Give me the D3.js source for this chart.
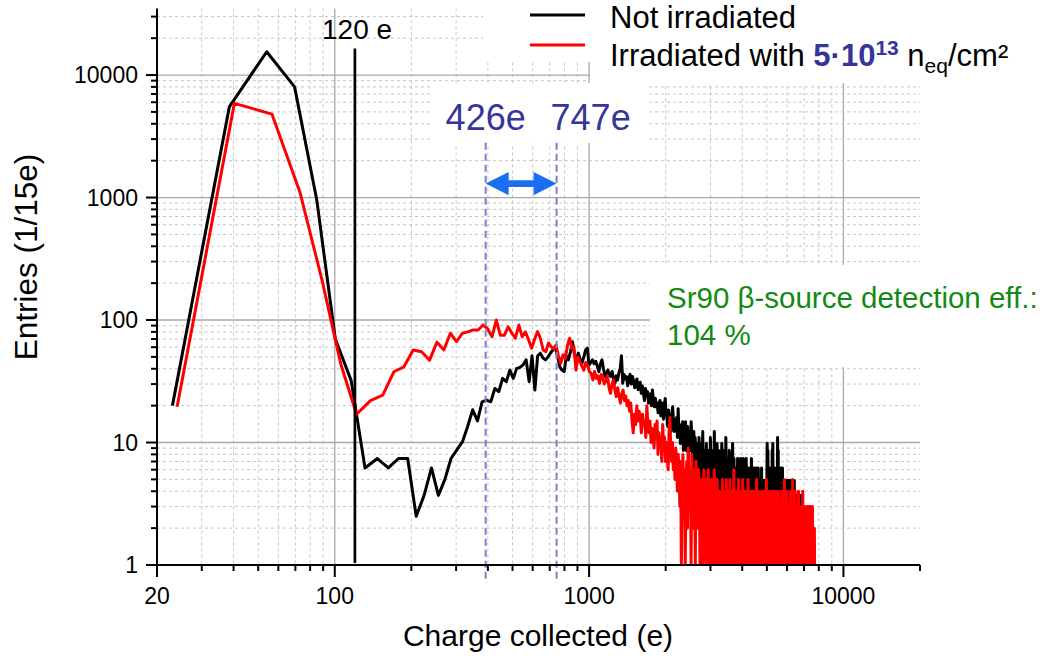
<!DOCTYPE html>
<html><head><meta charset="utf-8">
<script src="https://cdn.jsdelivr.net/npm/d3@7"></script>
<style>
html,body{margin:0;padding:0;background:#fff;}
svg{display:block;font-family:"Liberation Sans",Arial,Helvetica,sans-serif;}
</style></head><body>
<svg id="chart" width="1048" height="656"></svg>
<script>
// ---------- data ----------
const xTickLabels = [20, 100, 1000, 10000];
const yTickLabels = [1, 10, 100, 1000, 10000];
const legendNames = ["Not irradiated", "Irradiated with"];
// histogram binning (bin centres = start + i*width, in e)
const blackBinStart = 23, blackBinWidth = 15.5;
const redBinStart = 24, redBinWidth = 16.3;
const notIrradiated = [
20, 5500, 15500, 8000, 950, 70, 32, 6.2, 7.4, 6.2, 7.4, 7.4, 2.5, 3.7, 6.2, 3.7,
5, 7.4, 8.7, 10.1, 13.5, 18.5, 15, 21.5, 22.2, 21.5, 27.6, 26, 33.4, 31.4, 39,
33.4, 40.3, 41, 43, 47.3, 31.4, 51, 26.8, 51, 53.6, 49, 47.3, 50, 53.6, 57, 60.6, 50, 41.5, 39, 37.9,
51, 47.3, 55, 66.5, 52, 47.3, 53.6, 48, 44.4, 50, 56.9, 58.9, 42.9, 45, 47.3, 44, 46, 42, 37.9, 44,
47.3, 40, 34.6, 37, 39, 36, 34.6, 38, 33, 30.4, 35, 32.4, 37, 40, 51, 30.4, 36, 33, 34.6, 29,
33.4, 36, 30, 34.6, 32, 28, 31.4, 33, 27, 28.6, 31, 25.2, 29, 25.2, 22, 27.6, 24, 26, 21, 23.7,
25, 20, 26.8, 22, 19.6, 23, 19.6, 21, 17.5, 20.5, 22, 16.5, 18.4, 21, 15.5, 19, 22.9, 17, 16.2, 13.5,
18.4, 14.8, 16.2, 12.3, 17, 19.6, 14.8, 12.3, 15.2, 13.5, 16, 11, 18.9, 12.3, 14, 9.8, 13.5, 11, 14.8, 8.6,
12.3, 9.8, 14.8, 8.6, 11, 13.5, 7.4, 12.3, 9.8, 8.6, 14.8, 11, 7.4, 9.8, 12.3, 6.2, 11, 8.6, 9.8, 7.4,
8.6, 4.9, 11, 6.2, 7.4, 3.7, 9.8, 6.2, 12.3, 4.9, 7.4, 8.6, 3.7, 6.2, 9.8, 4.9, 7.4, 2.5, 8.6, 6.2,
4.9, 11, 3.7, 7.4, 6.2, 1.2, 8.6, 4.9, 12.3, 2.5, 7.4, 1.2, 6.2, 9.8, 3.7, 4.9, 8.6, 6.2, 2.5, 7.4,
4.9, 6.2, 9.8, 3.7, 7.4, 4.9, 2.5, 8.6, 6.2, 3.7, 11, 4.9, 6.2, 2.5, 7.4, 4.9, 3.7, 8.6, 6.2, 2.5, 4.9, 7.4, 3.7, 6.2, 9.8,
4.9, 2.5, 7.4, 3.7, 6.2, 1.2, 4.9, 3.7, 6.2, 2.5, 7.4, 4.9, 3.7, 2.5, 6.2, 4.9, 2.5, 7.4, 3.7, 4.9,
6.2, 1.2, 3.7, 7.4, 4.9, 2.5, 6.2, 3.7, 4.9, 2.5, 7.4, 3.7, 6.2, 2.5, 4.9, 3.7, 6.2, 1.2, 4.9, 3.7,
6.2, 2.5, 4.9, 7.4, 3.7, 2.5, 6.2, 4.9, 1.2, 3.7, 6.2, 4.9, 2.5, 3.7, 4.9, 2.5, 6.2, 3.7, 2.5, 4.9, 3.7, 6.2, 2.5, 4.9, 3.7,
3.7, 2.5, 4.9, 2.5, 3.7, 6.2, 2.5, 4.9, 3.7, 1.2, 4.9, 2.5, 3.7, 4.9, 2.5, 3.7, 2.5, 4.9, 3.7, 2.5,
4.9, 9.8, 3.7, 8.6, 2.5, 4.9, 1.2, 3.7, 6.2, 2.5, 4.9, 3.7, 2.5, 4.9, 2.5, 3.7, 8.6, 4.9, 9.8, 2.5,
3.7, 4.9, 1.2, 6.2, 2.5, 3.7, 4.9, 2.5, 3.7, 3.7, 6.2, 2.5, 4.9, 11, 3.7, 8.6, 2.5, 4.9, 1.2, 3.7,
6.2, 2.5, 4.9, 3.7, 2.5, 4.9, 6.2, 2.5, 3.7, 6.2, 1.2, 4.9, 2.5, 3.7, 2.5, 4.9, 2.5, 3.7, 4.9, 1.2,
3.7, 2.5, 4.9, 2.5, 3.7, 4.9, 2.5, 1.2, 3.7, 4.9, 2.5, 3.7, 2.5, 4.9, 2.5, 1.2, 3.7, 2.5, 4.9, 2.5,
2.5, 3.7, 1.2, 4.9, 2.5, 1.2, 3.7, 2.5, 1.2, 3.7, 2.5, 4.9, 1.2, 2.5, 3.7, 1.2, 2.5, 1.2, 3.7, 2.5,
1.2, 2.5, 3.7, 1.2, 2.5, 1.2, 2.5, 3.7, 1.2, 2.5, 1.2, 2.5, 1.2, 2.5, 3.7, 1.2, 2.5, 1.2, 2.5, 1.2,
2.5, 1.2, 3.7, 1.2, 2.5, 1.2, 2.5, 1.2
];
const irradiated = [
19.6, 5870, 4800, 1110, 210, 44, 17,
22, 24.4, 37.8, 41.5, 57, 55, 47, 66, 57,
78, 66.5, 78, 80, 83, 83, 91, 85, 73, 100, 75, 75, 88, 78, 71, 91, 73, 80, 68.7, 58.9,
70, 80.4, 71, 56.9, 55.1, 65, 60.6, 58, 62.5, 51, 44.4, 52, 48.6, 62.5, 71, 58, 60.6, 39, 50, 45.8,
42, 39, 45, 42.9, 38, 36.7, 32.4, 38, 33.4, 35, 30.4, 36, 33.4, 30, 32.4, 35, 28, 25.2, 30, 32.4,
27, 23.7, 28, 24, 21, 25, 26.8, 22, 24,
20, 22, 18, 21, 15, 12, 17, 14, 20, 15, 18, 16, 12, 17, 14, 15, 11, 20, 14, 12,
15, 10, 13, 11, 9, 14, 12, 15, 8, 12, 10, 11, 7, 14, 9, 11, 7, 10, 8, 6,
12, 16, 9, 7, 10, 6, 8, 5, 9, 7, 4, 8, 6, 3, 7, 1,
5, 8, 3, 6, 1, 4, 7, 2, 9, 5, 3, 6, 1, 8, 4, 2, 6, 5, 1, 7, 3, 5, 2, 6, 4, 1,
4, 2, 5, 1, 3, 6, 2, 4, 1, 5, 3, 2, 6, 1, 4, 3, 1, 5, 2, 3, 4, 1, 6, 2, 3, 1, 4, 5, 2, 1, 3, 4, 2,
3, 1, 4, 2, 5, 1, 3, 2, 4, 1, 2, 5, 3, 1, 4, 2, 3, 1, 5, 2, 1, 3, 4, 1, 2, 3, 6, 1, 4, 2, 3, 1, 2, 4, 1, 3, 5, 2, 1, 3,
2, 4, 1, 3, 2, 5, 1, 3, 1, 4, 2, 1, 3, 2, 4, 1, 2, 5, 1, 3, 2, 1, 4, 3, 1, 2, 3, 1, 4, 2, 1, 3, 2, 4, 1, 3, 1, 2, 5, 1, 3, 2, 1, 4, 2, 1, 3, 2,
1, 3, 2, 4, 1, 2, 1, 3, 2, 1, 4, 2, 3, 1, 2, 1, 5, 2, 1, 3, 1, 2, 4, 1, 3, 2, 1, 2, 4, 1, 3, 1, 2, 1, 3, 2, 4, 1, 2, 3, 1, 2, 1, 4, 2, 1, 3, 1, 2, 3, 1, 2, 4, 1, 2, 1, 3,
2, 1, 3, 1, 2, 4, 1, 2, 1, 3, 2, 1, 2, 5, 1, 2, 1, 3, 1, 2, 4, 1, 3, 2, 1, 2, 1, 3, 1, 2, 1, 4, 2, 1, 3, 1, 2, 1, 2, 3, 1, 5, 2, 1, 2, 1, 3, 1, 2, 1, 4, 2, 1, 3, 1, 2, 1, 2, 3, 1, 2, 1, 4, 1, 2, 1, 3, 1, 2,
1, 2, 1, 3, 1, 2, 1, 1, 2, 4, 1, 2, 1, 3, 1, 2, 1, 1, 2, 1, 3, 1, 2, 1, 1, 2, 3, 1, 1, 2, 1, 3, 1, 2, 1, 1, 3, 1, 2, 1, 1, 3, 1, 2, 1, 1, 2, 1, 3, 1, 1, 2, 1, 2, 1, 1, 2, 1, 1, 1
];
const thresholdE = 120;          // vertical cut line
const thresholdTop = 16500;      // top of the cut line (entries)
const markerLines = [392, 745];  // dashed marker positions (e)
const markerLabels = ["426e", "747e"];
const arrowLevel = 1300;         // entries level of the double arrow
const markerTop = 2800;

// ---------- scales ----------
const svg = d3.select("#chart");
const x = d3.scaleLog().domain([20, 20000]).range([157, 920]);
const y = d3.scaleLog().domain([1, 35000]).range([565, 8.4]);
const isMajor = v => Math.abs(Math.log10(v) - Math.round(Math.log10(v))) < 1e-9;
const X0 = x.range()[0], X1 = x.range()[1], Y0 = y.range()[0], Y1 = y.range()[1];

// ---------- grid ----------
const gGrid = svg.append("g");
x.ticks().filter(v => v > 20 && v < 20000).forEach(v => {
  gGrid.append("line").attr("x1", x(v)).attr("x2", x(v)).attr("y1", Y1).attr("y2", Y0)
    .attr("stroke", isMajor(v) ? "#a8a8a8" : "#c6c6c6")
    .attr("stroke-width", isMajor(v) ? 1.3 : 1)
    .attr("stroke-dasharray", isMajor(v) ? null : "3,3");
});
y.ticks().filter(v => v > 1).forEach(v => {
  gGrid.append("line").attr("x1", X0).attr("x2", X1).attr("y1", y(v)).attr("y2", y(v))
    .attr("stroke", isMajor(v) ? "#a8a8a8" : "#c6c6c6")
    .attr("stroke-width", isMajor(v) ? 1.3 : 1)
    .attr("stroke-dasharray", isMajor(v) ? null : "3,3");
});

// white backgrounds of annotation boxes
const boxes = svg.append("g").attr("fill", "#fff");
boxes.append("rect").attr("x", 483).attr("y", 0).attr("width", 565).attr("height", 62);
boxes.append("rect").attr("x", 590).attr("y", 0).attr("width", 458).attr("height", 83);
boxes.append("rect").attr("x", 430).attr("y", 83).attr("width", 217).attr("height", 60);
boxes.append("rect").attr("x", 650).attr("y", 265).attr("width", 398).attr("height", 102);

// ---------- data lines ----------
svg.append("defs").append("clipPath").attr("id", "clip")
  .append("rect").attr("x", X0).attr("y", 0).attr("width", X1 - X0).attr("height", Y0 + 1);
const gData = svg.append("g").attr("clip-path", "url(#clip)");
const lineB = d3.line().x((d, i) => x(blackBinStart + i * blackBinWidth)).y(d => y(d));
const lineR = d3.line().x((d, i) => x(redBinStart + i * redBinWidth)).y(d => y(d));
gData.append("path").datum(notIrradiated).attr("d", lineB)
  .attr("fill", "none").attr("stroke", "#000").attr("stroke-width", 3).attr("stroke-linejoin", "round");
gData.append("path").datum(irradiated).attr("d", lineR)
  .attr("fill", "none").attr("stroke", "#ff0000").attr("stroke-width", 3).attr("stroke-linejoin", "round");

// threshold line
svg.append("line").attr("x1", x(thresholdE)).attr("x2", x(thresholdE))
  .attr("y1", y(thresholdTop)).attr("y2", y(1) - 2)
  .attr("stroke", "#000").attr("stroke-width", 2.7);
svg.append("text").attr("x", 322).attr("y", 39).attr("font-size", 28).attr("fill", "#000").text(thresholdE + " e");

// marker dashed lines
markerLines.forEach(v => {
  svg.append("line").attr("x1", x(v)).attr("x2", x(v)).attr("y1", y(markerTop)).attr("y2", Y0 + 18)
    .attr("stroke", "#7d7dc8").attr("stroke-width", 2).attr("stroke-dasharray", "7,4");
});
svg.append("text").attr("x", x(markerLines[0])).attr("y", 130).attr("text-anchor", "middle")
  .attr("font-size", 36).attr("fill", "#35359a").text(markerLabels[0]);
svg.append("text").attr("x", x(markerLines[1]) - 6).attr("y", 130)
  .attr("font-size", 36).attr("fill", "#35359a").text(markerLabels[1]);

// double arrow
{
  const xa = x(markerLines[0]), xb = x(markerLines[1]), yc = y(arrowLevel);
  const hl = 23, hh = 11.7, st = 3.4;
  const pts = [[xa, yc], [xa + hl, yc - hh], [xa + hl, yc - st], [xb - hl, yc - st], [xb - hl, yc - hh], [xb, yc],
    [xb - hl, yc + hh], [xb - hl, yc + st], [xa + hl, yc + st], [xa + hl, yc + hh]];
  svg.append("polygon").attr("points", pts.map(p => p.join(",")).join(" ")).attr("fill", "#1a6ff0");
}

// ---------- axes ----------
const gAx = svg.append("g").attr("stroke", "#000");
gAx.append("line").attr("x1", X0).attr("x2", X0).attr("y1", Y1).attr("y2", Y0 + 1).attr("stroke-width", 2);
gAx.append("line").attr("x1", X0 - 1).attr("x2", X1).attr("y1", Y0).attr("y2", Y0).attr("stroke-width", 2);
y.ticks().forEach(v => {
  gAx.append("line").attr("x1", X0 - (isMajor(v) ? 11 : 6)).attr("x2", X0).attr("y1", y(v)).attr("y2", y(v)).attr("stroke-width", 2);
});
x.ticks().forEach(v => {
  const maj = xTickLabels.includes(v);
  gAx.append("line").attr("x1", x(v)).attr("x2", x(v)).attr("y1", Y0).attr("y2", Y0 + (maj ? 12 : 6)).attr("stroke-width", 2);
});
const gLab = svg.append("g").attr("font-size", 23).attr("fill", "#000");
yTickLabels.forEach(v => {
  gLab.append("text").attr("x", 138).attr("y", y(v) + 8).attr("text-anchor", "end").text(v);
});
xTickLabels.forEach(v => {
  gLab.append("text").attr("x", x(v)).attr("y", 604).attr("text-anchor", "middle").text(v);
});
svg.append("text").attr("x", 538).attr("y", 646).attr("text-anchor", "middle").attr("font-size", 30).text("Charge collected (e)");
svg.append("text").attr("transform", "translate(37,257) rotate(-90)").attr("text-anchor", "middle").attr("font-size", 31.5).text("Entries (1/15e)");

// ---------- legend ----------
svg.append("line").attr("x1", 530).attr("x2", 585).attr("y1", 15).attr("y2", 15).attr("stroke", "#000").attr("stroke-width", 3);
svg.append("line").attr("x1", 530).attr("x2", 585).attr("y1", 45).attr("y2", 45).attr("stroke", "#ff0000").attr("stroke-width", 3);
svg.append("text").attr("x", 610).attr("y", 28).attr("font-size", 31).text(legendNames[0]);
const t2 = svg.append("text").attr("x", 610).attr("y", 66).attr("font-size", 31);
t2.append("tspan").text(legendNames[1] + " ");
t2.append("tspan").attr("font-weight", "bold").attr("fill", "#35359a").text("5·10");
t2.append("tspan").attr("font-weight", "bold").attr("fill", "#35359a").attr("font-size", 21).attr("dy", -11).text("13");
t2.append("tspan").attr("dy", 11).text(" n");
t2.append("tspan").attr("font-size", 21).attr("dy", 7).text("eq");
t2.append("tspan").attr("dy", -7).text("/cm²");

// ---------- efficiency note ----------
const g3 = svg.append("g").attr("fill", "#138a13").attr("font-size", 29.5);
g3.append("text").attr("x", 667).attr("y", 308).text("Sr90 β-source detection eff.:");
g3.append("text").attr("x", 667).attr("y", 345).text("104 %");
</script>
</body></html>
